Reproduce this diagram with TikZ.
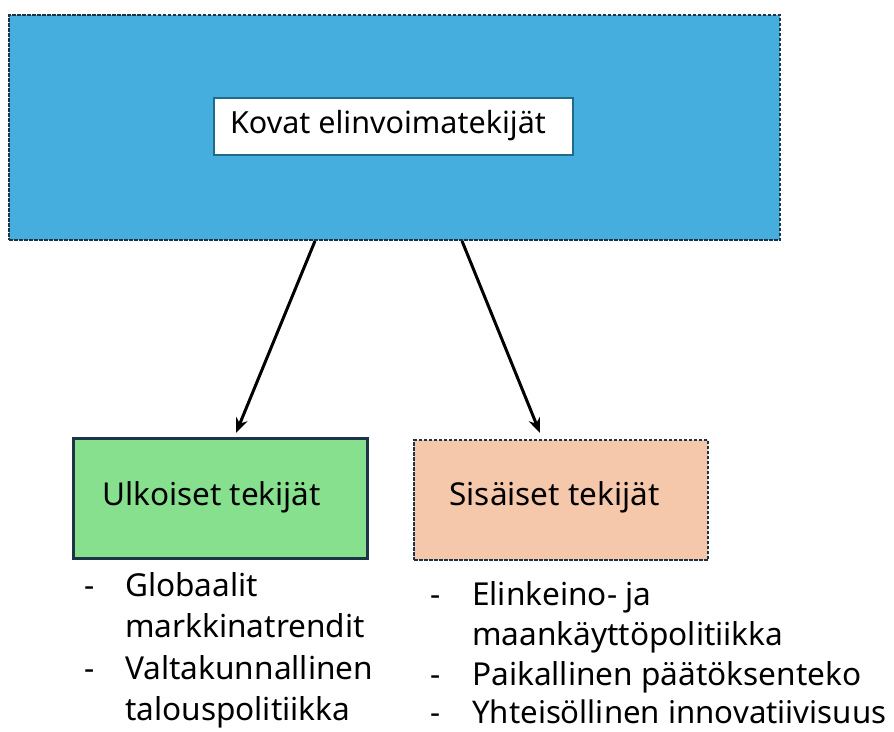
\documentclass[tikz,border=0pt]{standalone}
\usepackage{fontspec}
\setmainfont{Noto Sans}
\usetikzlibrary{arrows.meta}
\definecolor{topblue}{HTML}{45AEDF}
\definecolor{boxgreen}{HTML}{86E08E}
\definecolor{boxpeach}{HTML}{F5C7AB}
\definecolor{edgedark}{HTML}{1E3446}
\definecolor{innerteal}{HTML}{1F6B8A}
\tikzset{
  dashbox/.style={draw=edgedark, line width=2.6pt, dash pattern=on 3.5pt off 1.5pt, inner sep=0pt},
  solidbox/.style={draw=edgedark, line width=3pt, inner sep=0pt},
  arr/.style={line width=3pt, -{Stealth[length=15pt,width=12pt]}},
  listline/.style={anchor=base west, inner sep=0pt, font=\fontsize{31.6}{36}\selectfont},
  boxtext/.style={inner sep=0pt, font=\fontsize{31.5}{36}\selectfont},
}
\begin{document}
\begin{tikzpicture}[x=1pt,y=-1pt]
\useasboundingbox (0,0) rectangle (894,731);
\fill[white] (0,0) rectangle (894,731);
% top box
\node[dashbox, fill=topblue, minimum width=771pt, minimum height=225pt] (top) at (394.5,127.5) {};
\node[draw=innerteal, line width=2.5pt, fill=white, minimum width=359pt, minimum height=57pt, inner sep=0pt] (titlebox) at (393.5,126.5) {};
\node[inner sep=0pt, font=\fontsize{30.5}{36}\selectfont] (title) at (388,126) {Kovat elinvoimatekijät};
% lower boxes
\node[solidbox, fill=boxgreen, minimum width=294pt, minimum height=120pt] (ext) at (220,498) {};
\node[boxtext] (exttext) at (211.5,497) {Ulkoiset tekijät};
\node[dashbox, fill=boxpeach, minimum width=294pt, minimum height=120pt] (int) at (561,500) {};
\node[boxtext] (inttext) at (554.5,497) {Sisäiset tekijät};
% arrows
\coordinate (a1s) at (315,241);
\coordinate (a1e) at (236,433);
\coordinate (a2s) at (462,241);
\coordinate (a2e) at (540,433);
\draw[arr] (a1s) -- (a1e);
\draw[arr] (a2s) -- (a2e);
% left list
\node[listline] (l1) at (84,596) {\makebox[41pt][l]{-}Globaalit};
\node[listline] (l2) at (84,637.5) {\hspace*{41pt}markkinatrendit};
\node[listline] (l3) at (84,679) {\makebox[41pt][l]{-}Valtakunnallinen};
\node[listline] (l4) at (84,720) {\hspace*{41pt}talouspolitiikka};
% right list
\node[listline] (r1) at (430,605) {\makebox[42pt][l]{-}Elinkeino- ja};
\node[listline] (r2) at (430,645) {\hspace*{42pt}maankäyttöpolitiikka};
\node[listline] (r3) at (430,685) {\makebox[42pt][l]{-}Paikallinen päätöksenteko};
\node[listline, font=\fontsize{31.2}{36}\selectfont] (r4) at (430,723) {\makebox[42pt][l]{-}Yhteisöllinen innovatiivisuus};
\end{tikzpicture}
\end{document}
